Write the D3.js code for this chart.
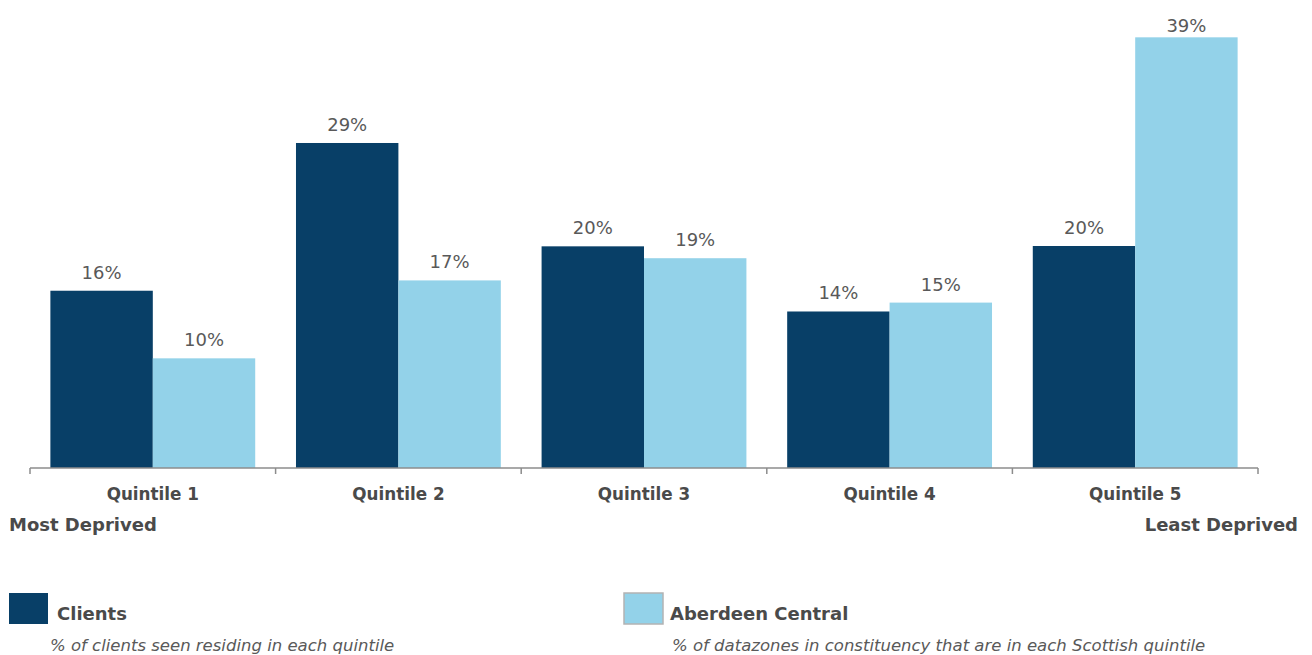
<!DOCTYPE html>
<html>
<head>
<meta charset="utf-8">
<script src="https://cdn.jsdelivr.net/npm/d3@7"></script>
<style>
  html, body { margin: 0; padding: 0; background: #ffffff; }
  svg { display: block; }
</style>
</head>
<body>
<svg id="chart" width="1312" height="655"></svg>
<script>
const categories = ["Quintile 1", "Quintile 2", "Quintile 3", "Quintile 4", "Quintile 5"];
const seriesNames = ["Clients", "Aberdeen Central"];
const clients = [15.97, 29.28, 19.97, 14.1, 20.0];
const aberdeen = [9.88, 16.9, 18.9, 14.9, 38.8];
const legendNotes = ["% of clients seen residing in each quintile",
                     "% of datazones in constituency that are in each Scottish quintile"];
const endLabels = ["Most Deprived", "Least Deprived"];

const colors = ["#083f67", "#93d2e9"];
const textColor = "#595959";
const boldColor = "#4a4a4a";

const svg = d3.select("#chart");

const x0 = d3.scaleBand().domain(categories).range([30, 1258]).padding(0);
const bw = x0.bandwidth();
const x1 = d3.scaleBand().domain(seriesNames).range([bw * 0.083, bw * 0.917]).padding(0);
const y = d3.scaleLinear().domain([0, 40]).range([468, 24]);

const data = categories.map((c, i) => ({
  cat: c,
  vals: [
    { s: seriesNames[0], v: clients[i], k: 0 },
    { s: seriesNames[1], v: aberdeen[i], k: 1 }
  ]
}));

const groups = svg.append("g").selectAll("g").data(data).join("g")
  .attr("transform", d => `translate(${x0(d.cat)},0)`);

groups.selectAll("rect").data(d => d.vals).join("rect")
  .attr("x", d => x1(d.s))
  .attr("y", d => y(d.v))
  .attr("width", x1.bandwidth())
  .attr("height", d => y(0) - y(d.v))
  .attr("fill", d => colors[d.k]);

groups.selectAll("text.val").data(d => d.vals).join("text")
  .attr("class", "val")
  .attr("x", d => x1(d.s) + x1.bandwidth() / 2)
  .attr("y", d => Math.max(32, y(d.v) - 12))
  .attr("text-anchor", "middle")
  .attr("font-family", "DejaVu Sans, Verdana, sans-serif")
  .attr("font-size", 18)
  .attr("fill", textColor)
  .text(d => Math.round(d.v) + "%");

// Axis
const axis = d3.axisBottom(x0).tickSize(0).tickFormat("");
const axG = svg.append("g").attr("transform", `translate(0,${y(0)})`).call(axis);
axG.select(".domain").attr("stroke", "#8c8c8c").attr("stroke-width", 1.5).attr("d", `M30,0H1258`);
const bounds = categories.map(c => x0(c)).concat([x0.range()[1]]);
axG.selectAll("line.bt").data(bounds).join("line")
  .attr("class", "bt")
  .attr("x1", d => d).attr("x2", d => d)
  .attr("y1", 0).attr("y2", 6)
  .attr("stroke", "#8c8c8c").attr("stroke-width", 1.5);

svg.append("g").selectAll("text").data(categories).join("text")
  .attr("x", d => x0(d) + bw / 2)
  .attr("y", 500)
  .attr("text-anchor", "middle")
  .attr("font-family", "DejaVu Sans, Verdana, sans-serif")
  .attr("font-weight", "bold")
  .attr("font-size", 16.8)
  .attr("fill", boldColor)
  .text(d => d);

svg.append("text").attr("x", 9).attr("y", 531)
  .attr("font-family", "DejaVu Sans, Verdana, sans-serif")
  .attr("font-weight", "bold").attr("font-size", 18).attr("fill", boldColor)
  .text(endLabels[0]);
svg.append("text").attr("x", 1298).attr("y", 531).attr("text-anchor", "end")
  .attr("font-family", "DejaVu Sans, Verdana, sans-serif")
  .attr("font-weight", "bold").attr("font-size", 18).attr("fill", boldColor)
  .text(endLabels[1]);

// Legend
const legendX = [9, 624];
const leg = svg.append("g").selectAll("g").data(seriesNames).join("g")
  .attr("transform", (d, i) => `translate(${legendX[i]},593)`);
leg.append("rect")
  .attr("x", 0).attr("y", 0).attr("width", 39).attr("height", 31)
  .attr("fill", (d, i) => colors[i])
  .attr("stroke", (d, i) => i === 1 ? "#b3b3b3" : "none")
  .attr("stroke-width", 1.5);
leg.append("text")
  .attr("x", (d, i) => i === 0 ? 48 : 46).attr("y", 27)
  .attr("font-family", "DejaVu Sans, Verdana, sans-serif")
  .attr("font-weight", "bold").attr("font-size", 18).attr("fill", boldColor)
  .text(d => d);
leg.append("text")
  .attr("x", (d, i) => i === 0 ? 41 : 48).attr("y", 58)
  .attr("font-family", "DejaVu Sans, Verdana, sans-serif")
  .attr("font-style", "italic").attr("font-size", 16.5).attr("fill", textColor)
  .text((d, i) => legendNotes[i]);
</script>
</body>
</html>
